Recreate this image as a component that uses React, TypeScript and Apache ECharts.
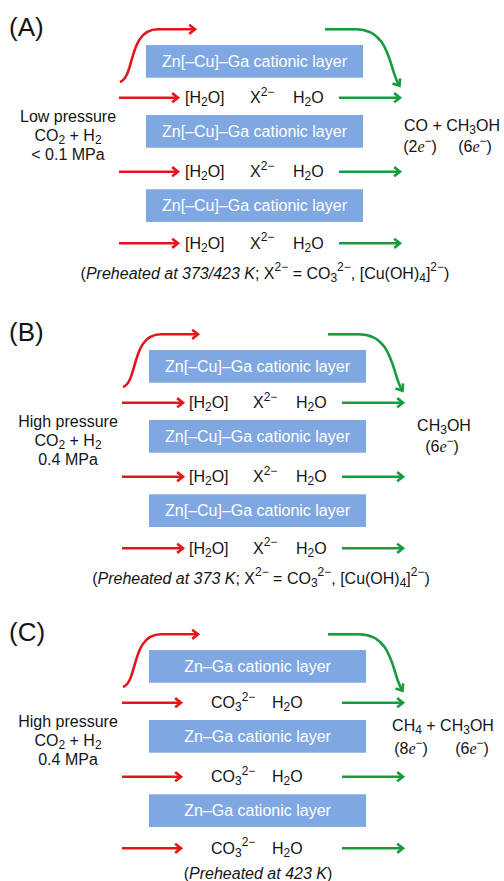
import React, { useEffect, useRef } from "react";
import * as echarts from "echarts";

const W = 504;
const H = 881;

// ---- content ----
const panelLabels = ["(A)", "(B)", "(C)"];
const layerNames = [
  "Zn[–Cu]–Ga cationic layer",
  "Zn[–Cu]–Ga cationic layer",
  "Zn–Ga cationic layer",
];
const interlayerCu = ["[H_{2}O]", "X^{2−}", "H_{2}O"];
const interlayerZn = ["CO_{3}^{2−}", "H_{2}O"];
const feedLines = [
  ["Low pressure", "CO_{2} + H_{2}", "< 0.1 MPa"],
  ["High pressure", "CO_{2} + H_{2}", "0.4 MPa"],
  ["High pressure", "CO_{2} + H_{2}", "0.4 MPa"],
];
const productLines = ["CO + CH_{3}OH", "CH_{3}OH", "CH_{4} + CH_{3}OH"];
const electronLabels = [
  ["(2~{e}^{−})", "(6~{e}^{−})"],
  ["(6~{e}^{−})"],
  ["(8~{e}^{−})", "(6~{e}^{−})"],
];
const captions = [
  "(*{Preheated at 373/423 K}; X^{2−} = CO_{3}^{2−}, [Cu(OH)_{4}]^{2−})",
  "(*{Preheated at 373 K}; X^{2−} = CO_{3}^{2−}, [Cu(OH)_{4}]^{2−})",
  "(*{Preheated at 423 K})",
];

// ---- layout ----
const panels = [
  { dy: 0, dx: 0, capX: 265, capY: 273, prodX: 452, prodY: 125, eX: [420, 475], eY: 146.5, rowX: [185, 250, 293] },
  { dy: 305, dx: 3, capX: 261, capY: 578, prodX: 444, prodY: 425, eX: [442], eY: 446.5, rowX: [189, 253, 296] },
  { dy: 605, dx: 3, capX: 258, capY: 873, prodX: 443, prodY: 725, eX: [411, 472], eY: 748.5, rowX: [211, 272] },
];
const boxTops = [45, 115, 189.3];
const boxH = 32.7;
const rowYs = [97.7, 171.7, 243.3];
const feedYs = [116, 135, 154];

const RED = "#e3161d";
const GREEN = "#179b3c";
const BLUE = "#7fa8e2";
const INK = "#141414";
const LW = 2.6;

const FONT: Record<string, string> = {
  n: '16px "Liberation Sans"',
  i: 'italic 16px "Liberation Sans"',
  e: 'italic 16px "Liberation Serif"',
  sub: '12px "Liberation Sans"',
  sup: '12px "Liberation Sans"',
};
const OFF: Record<string, number> = { n: 0, i: 0, e: 0, sub: 4.5, sup: -6 };

let measureCtx: CanvasRenderingContext2D | null = null;
function measure(t: string, font: string) {
  if (!measureCtx) measureCtx = document.createElement("canvas").getContext("2d");
  measureCtx!.font = font;
  return measureCtx!.measureText(t).width;
}

function parse(s: string) {
  const parts = s.split(/(_\{[^}]*\}|\^\{[^}]*\}|\*\{[^}]*\}|~\{[^}]*\})/).filter((p) => p.length);
  return parts.map((p) => {
    const m = p.match(/^([_^*~])\{([^}]*)\}$/);
    if (!m) return { t: p, k: "n" };
    const k = m[1] === "_" ? "sub" : m[1] === "^" ? "sup" : m[1] === "*" ? "i" : "e";
    return { t: m[2], k };
  });
}

function rich(s: string, x: number, y: number, align: "left" | "center", fill = INK) {
  const segs = parse(s);
  const ws = segs.map((g) => measure(g.t, FONT[g.k]));
  const total = ws.reduce((a, b) => a + b, 0);
  let cx = align === "center" ? x - total / 2 : x;
  return segs.map((g, i) => {
    const el = {
      type: "text",
      x: cx,
      y: y + OFF[g.k],
      silent: true,
      style: { text: g.t, font: FONT[g.k], fill, align: "left", verticalAlign: "middle" },
    };
    cx += ws[i];
    return el;
  });
}

function head(tx: number, ty: number, ux: number, uy: number, color: string) {
  const L = 7.4;
  const a = (38 * Math.PI) / 180;
  const bx = -ux;
  const by = -uy;
  const r = (ang: number) => [
    tx + L * (bx * Math.cos(ang) - by * Math.sin(ang)),
    ty + L * (bx * Math.sin(ang) + by * Math.cos(ang)),
  ];
  return {
    type: "polyline",
    silent: true,
    shape: { points: [r(a), [tx, ty], r(-a)] },
    style: { stroke: color, lineWidth: LW, fill: "none", lineJoin: "miter" },
  };
}

function hArrow(x1: number, x2: number, y: number, color: string) {
  return [
    { type: "line", silent: true, shape: { x1, y1: y, x2: x2 - 1, y2: y }, style: { stroke: color, lineWidth: LW } },
    head(x2, y, 1, 0, color),
  ];
}

function buildGraphic() {
  const els: any[] = [];
  panels.forEach((p, pi) => {
    const dy = p.dy;
    const dx = p.dx;
    // panel label
    els.push({
      type: "text",
      x: 9,
      y: 27 + dy,
      style: { text: panelLabels[pi], font: '26px "Liberation Sans"', fill: INK, align: "left", verticalAlign: "middle" },
    });
    // red curved arrow
    const top = 29.3 + dy;
    els.push({
      type: "bezierCurve",
      shape: { x1: 120 + dx, y1: 82 + dy, cpx1: 135 + dx, cpy1: 77 + dy, cpx2: 128 + dx, cpy2: top, x2: 158 + dx, y2: top },
      style: { stroke: RED, lineWidth: LW, fill: "none" },
    });
    els.push({ type: "line", shape: { x1: 158 + dx, y1: top, x2: 194 + dx, y2: top }, style: { stroke: RED, lineWidth: LW } });
    els.push(head(195 + dx, top, 1, 0, RED));
    // green curved arrow
    els.push({ type: "line", shape: { x1: 325 + dx, y1: top, x2: 355 + dx, y2: top }, style: { stroke: GREEN, lineWidth: LW } });
    els.push({
      type: "bezierCurve",
      shape: { x1: 355 + dx, y1: top, cpx1: 391 + dx, cpy1: top - 0.3, cpx2: 389 + dx, cpy2: 70 + dy, x2: 399 + dx, y2: 85 + dy },
      style: { stroke: GREEN, lineWidth: LW, fill: "none" },
    });
    {
      const ux = 10;
      const uy = 15;
      const n = Math.hypot(ux, uy);
      els.push(head(399.5 + dx, 85.8 + dy, ux / n, uy / n, GREEN));
    }
    // layers
    boxTops.forEach((bt) => {
      els.push({
        type: "rect",
        shape: { x: 146 + dx, y: bt + dy, width: 217, height: boxH },
        style: { fill: BLUE },
      });
      els.push(...rich(layerNames[pi], 254.5 + dx, bt + dy + boxH / 2, "center", "#ffffff"));
    });
    // interlayer rows
    rowYs.forEach((ry) => {
      const y = ry + dy;
      els.push(...hArrow(119 + dx, 178 + dx + (pi === 1 ? 2 : 0), y, RED));
      els.push(...hArrow(339 + dx, 400 + dx, y, GREEN));
      const items = pi === 2 ? interlayerZn : interlayerCu;
      items.forEach((t, k) => els.push(...rich(t, p.rowX[k], y, "left")));
    });
    // feed text
    feedLines[pi].forEach((t, k) => els.push(...rich(t, 68, feedYs[k] + dy, "center")));
    // products
    els.push(...rich(productLines[pi], p.prodX, p.prodY, "center"));
    electronLabels[pi].forEach((t, k) => els.push(...rich(t, p.eX[k], p.eY, "center")));
    // caption
    els.push(...rich(captions[pi], p.capX, p.capY, "center"));
  });
  return els;
}

export default function App() {
  const ref = useRef<HTMLDivElement>(null);
  useEffect(() => {
    document.body.style.margin = "0";
    if (!ref.current) return;
    const chart = echarts.init(ref.current, undefined, { renderer: "svg", width: W, height: H });
    chart.setOption({
      animation: false,
      backgroundColor: "#ffffff",
      graphic: { elements: buildGraphic() },
    });
    return () => chart.dispose();
  }, []);
  return <div ref={ref} style={{ width: W, height: H }} />;
}
